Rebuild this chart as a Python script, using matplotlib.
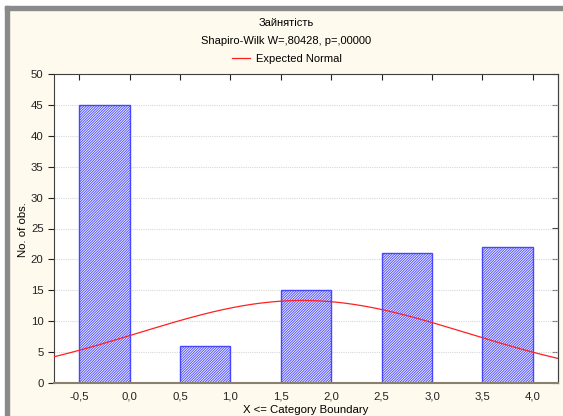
import matplotlib
matplotlib.use("Agg")
import matplotlib.pyplot as plt
import numpy as np
from matplotlib.patches import Rectangle
from matplotlib.ticker import FuncFormatter, MultipleLocator

plt.rcParams['font.family'] = ['Liberation Sans', 'DejaVu Sans']
plt.rcParams['hatch.color'] = '#5050ff'
plt.rcParams['hatch.linewidth'] = 0.6

# category boundaries (X <= boundary) and counts
bin_left = [-0.5, 0.5, 1.5, 2.5, 3.5]
bin_right = [0.0, 1.0, 2.0, 3.0, 4.0]
counts = [45, 6, 15, 21, 22]
cat_values = [0, 1, 2, 3, 4]
bin_step = 0.5

title = "Зайнятість"
subtitle = "Shapiro-Wilk W=,80428, p=,00000"

# expected normal from the sample's mean / sd
vals = np.repeat(cat_values, counts)
mu = vals.mean()
sd = vals.std(ddof=1)
n = len(vals)
xs = np.linspace(-0.75, 4.25, 300)
ys = n * bin_step / (sd * np.sqrt(2 * np.pi)) * np.exp(-0.5 * ((xs - mu) / sd) ** 2)

fig = plt.figure(figsize=(5.63, 4.16), dpi=100, facecolor='#fffaee')
W, H = 563, 416

# window frame
fig.add_artist(Rectangle((0, 0), 5 / W, 1, transform=fig.transFigure, color='white', zorder=-2))
fig.add_artist(Rectangle((0, 1 - 6 / H), 1, 6 / H, transform=fig.transFigure, color='white', zorder=-2))
fig.add_artist(Rectangle((5 / W, 0), 4 / W, 1 - 6 / H, transform=fig.transFigure, color='#8a8a8a', zorder=-1))
fig.add_artist(Rectangle((5 / W, 1 - 10 / H), 1, 4 / H, transform=fig.transFigure, color='#8a8a8a', zorder=-1))

ax = fig.add_axes([54 / W, 33 / H, 504 / W, 309 / H])
ax.set_facecolor('white')

widths = [r - l for l, r in zip(bin_left, bin_right)]
ax.bar(bin_left, counts, width=widths, align='edge', facecolor='#eeeeff',
       edgecolor='#4646ff', linewidth=1.0, hatch='/' * 13, zorder=2)
line, = ax.plot(xs, ys, color='#ff2020', linewidth=0.9, zorder=3)

ax.set_xlim(-0.75, 4.25)
ax.set_ylim(0, 50)
ax.xaxis.set_major_locator(MultipleLocator(0.5))
ax.yaxis.set_major_locator(MultipleLocator(5))
comma = FuncFormatter(lambda v, p: ("%.1f" % v).replace('.', ','))
ax.xaxis.set_major_formatter(comma)
ax.yaxis.set_major_formatter(FuncFormatter(lambda v, p: "%d" % v))
ax.grid(axis='y', color='#d8d8d8', linestyle=(0, (1, 1)), linewidth=0.8, zorder=0)

ax.tick_params(axis='x', bottom=False, top=True, direction='in', length=4,
               labelsize=8.2, pad=6, colors='#222222')
ax.tick_params(axis='y', left=True, direction='out', length=4, labelsize=8.2,
               colors='#222222')
right = ax.secondary_yaxis('right')
right.yaxis.set_major_locator(MultipleLocator(5))
right.tick_params(direction='in', length=4, labelright=False, color='#444444')
right.spines['right'].set_color('#404040')

for s in ['left', 'top', 'right']:
    ax.spines[s].set_color('#404040')
ax.spines['bottom'].set_color('#8a8070')
ax.spines['bottom'].set_linewidth(1.5)

ax.set_ylabel("No. of obs.", fontsize=8.2)
ax.yaxis.set_label_coords(-26 / 504, 0.495)
ax.set_xlabel("X <= Category Boundary", fontsize=8.2)
ax.xaxis.set_label_coords(252 / 504, -22 / 309)

fig.text(286 / W, 1 - 23 / H, title, ha='center', va='center', fontsize=8)
fig.text(286 / W, 1 - 41 / H, subtitle, ha='center', va='center', fontsize=8)
fig.legend([line], ["Expected Normal"], loc='center', bbox_to_anchor=(287 / W, 1 - 59 / H),
           frameon=False, fontsize=8, handlelength=1.6, handletextpad=0.6)

fig.savefig("out.png", dpi=100, facecolor=fig.get_facecolor())
